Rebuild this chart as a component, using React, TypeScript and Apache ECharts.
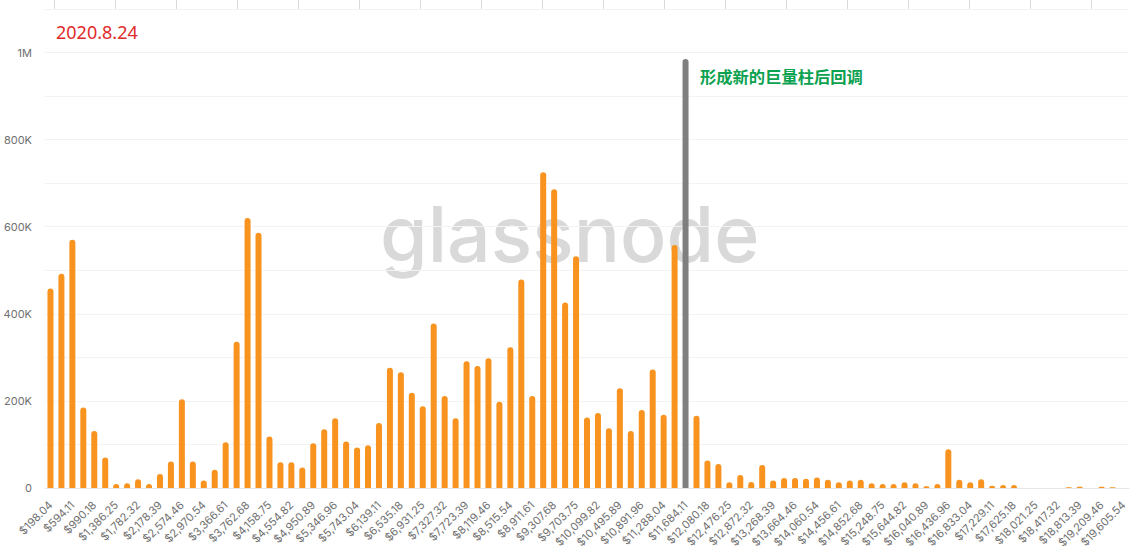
import { useEffect, useRef } from 'react';
import * as echarts from 'echarts';

const tickLabels = [
  '$198.04', '$594.11', '$990.18', '$1,386.25', '$1,782.32', '$2,178.39', '$2,574.46', '$2,970.54', '$3,366.61', '$3,762.68',
  '$4,158.75', '$4,554.82', '$4,950.89', '$5,346.96', '$5,743.04', '$6,139.11', '$6,535.18', '$6,931.25', '$7,327.32', '$7,723.39',
  '$8,119.46', '$8,515.54', '$8,911.61', '$9,307.68', '$9,703.75', '$10,099.82', '$10,495.89', '$10,891.96', '$11,288.04', '$11,684.11',
  '$12,080.18', '$12,476.25', '$12,872.32', '$13,268.39', '$13,664.46', '$14,060.54', '$14,456.61', '$14,852.68', '$15,248.75', '$15,644.82',
  '$16,040.89', '$16,436.96', '$16,833.04', '$17,229.11', '$17,625.18', '$18,021.25', '$18,417.32', '$18,813.39', '$19,209.46', '$19,605.54',
];

// one bar per price bucket, only every second bucket has a label
const categories = tickLabels.flatMap((l, i) => (i < tickLabels.length - 1 ? [l, ''] : [l]));

const supply = [
  458000, 492000, 570000, 185000, 131000, 70000, 9000, 11000, 20000, 9000,
  32000, 61000, 204000, 61000, 17000, 42000, 105000, 336000, 620000, 586000,
  118000, 59000, 59000, 47000, 103000, 135000, 160000, 107000, 93000, 98000,
  149000, 276000, 266000, 219000, 188000, 378000, 211000, 160000, 291000, 280000,
  298000, 198000, 323000, 479000, 211000, 725000, 686000, 426000, 532000, 162000,
  172000, 137000, 229000, 131000, 179000, 272000, 168000, 558000, 985000, 166000,
  63000, 55000, 13000, 30000, 14000, 53000, 17000, 23000, 23000, 21000,
  24000, 19000, 13000, 17000, 19000, 11000, 9000, 9000, 13000, 11000,
  4000, 9000, 89000, 19000, 13000, 20000, 5000, 7000, 7000, 0,
  0, 0, 0, 1500, 3000, 0, 3000, 1500, 0,
];

const highlightIndex = 58;
const topTicks = [9, 70, 131, 192, 253, 314, 375, 436, 497, 558, 619, 680, 741, 802, 863, 924, 985, 1046];

export default function App() {
  const chartRef = useRef<HTMLDivElement>(null);

  useEffect(() => {
    if (!chartRef.current) return;
    document.body.style.margin = '0';
    const chart = echarts.init(chartRef.current, undefined, { renderer: 'svg' });

    chart.setOption({
      animation: false,
      backgroundColor: '#ffffff',
      grid: { left: 45, right: 7, top: 9, bottom: 66 },
      xAxis: [
        {
          type: 'category',
          data: categories,
          axisLine: { lineStyle: { color: '#e6e6e6' } },
          axisTick: { show: false },
          axisLabel: {
            interval: 0,
            rotate: 45,
            margin: 15,
            fontSize: 11,
            color: '#707070',
            fontFamily: 'Inter, sans-serif',
          },
        },
        {
          // ticks of the cropped chart above, they stick out over the top line
          type: 'value',
          position: 'top',
          min: 0,
          max: 1084,
          axisLine: { show: false },
          axisLabel: { show: false },
          splitLine: { show: false },
          axisTick: { show: true, customValues: topTicks, length: 9, lineStyle: { color: '#d9d9d9' } },
        },
      ],
      yAxis: {
        type: 'value',
        min: 0,
        max: 1100000,
        interval: 100000,
        axisLine: { show: false },
        axisTick: { show: false },
        splitLine: { lineStyle: { color: '#f3f3f3' } },
        axisLabel: {
          margin: 13,
          fontSize: 11,
          color: '#707070',
          fontFamily: 'Inter, sans-serif',
          formatter: (v: number) => {
            if (v === 0) return '0';
            if (v === 1000000) return '1M';
            return v % 200000 === 0 && v < 1000000 ? v / 1000 + 'K' : '';
          },
        },
      },
      series: [
        {
          type: 'bar',
          xAxisIndex: 0,
          barWidth: 6,
          data: supply.map((value, i) =>
            i === highlightIndex ? { value, itemStyle: { color: '#7f7f7f' } } : value
          ),
          itemStyle: { color: '#f7931e', borderRadius: [3, 3, 0, 0] },
        },
      ],
      graphic: [
        {
          type: 'text',
          z: -1,
          x: 380,
          y: 195,
          style: { text: 'glassnode', font: '500 77px Inter, sans-serif', fill: '#d9d9d9' },
        },
        {
          type: 'text',
          x: 56,
          y: 23,
          style: { text: '2020.8.24', font: '18px "Noto Sans", sans-serif', fill: '#e02b2b' },
        },
        {
          type: 'text',
          x: 700,
          y: 68,
          style: { text: '形成新的巨量柱后回调', font: 'bold 16.3px "Noto Sans CJK SC", sans-serif', fill: '#0aa14f' },
        },
      ],
    });

    return () => chart.dispose();
  }, []);

  return <div ref={chartRef} style={{ width: 1136, height: 554 }} />;
}
